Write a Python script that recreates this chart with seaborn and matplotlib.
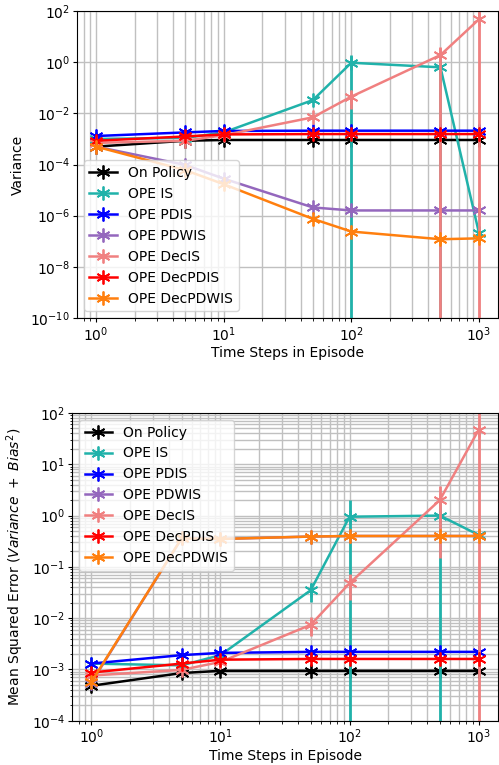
import numpy as np
import matplotlib
matplotlib.use("Agg")
import matplotlib.pyplot as plt
import seaborn as sns

# dados
passos = [1, 5, 10, 50, 100, 500, 1000]
metodos = ["On Policy", "OPE IS", "OPE PDIS", "OPE PDWIS", "OPE DecIS", "OPE DecPDIS", "OPE DecPDWIS"]
cores = ["black", "lightseagreen", "blue", "tab:purple", "lightcoral", "red", "tab:orange"]

var_on_policy = [5.0e-4, 8.5e-4, 9.1e-4, 9.1e-4, 9.1e-4, 9.1e-4, 9.1e-4]
var_is = [1.0e-3, 1.1e-3, 1.8e-3, 0.033, 0.95, 0.63, 2.2e-7]
var_pdis = [1.3e-3, 1.8e-3, 2.05e-3, 2.1e-3, 2.1e-3, 2.1e-3, 2.1e-3]
var_pdwis = [5.0e-4, 9.6e-5, 2.8e-5, 2.1e-6, 1.6e-6, 1.6e-6, 1.6e-6]
var_decis = [7.0e-4, 8.5e-4, 1.4e-3, 7.0e-3, 0.045, 1.9, 47.0]
var_decpdis = [8.5e-4, 1.25e-3, 1.5e-3, 1.55e-3, 1.55e-3, 1.55e-3, 1.55e-3]
var_decpdwis = [5.0e-4, 6.0e-5, 1.7e-5, 7.5e-7, 2.4e-7, 1.2e-7, 1.3e-7]

err_var_is = [0, 0, 0, 0.004, 1.0, 0.7, 0]
err_var_decis = [0, 0, 0, 0.001, 0.03, 2.0, 80.0]
err_var_decpdwis = [0, 0, 0, 0, 0, 4e-8, 4e-8]

mse_on_policy = [4.8e-4, 8.5e-4, 9.4e-4, 9.4e-4, 9.4e-4, 9.4e-4, 9.4e-4]
mse_is = [1.3e-3, 1.2e-3, 1.9e-3, 0.035, 0.95, 1.0, 0.42]
mse_pdis = [1.3e-3, 1.9e-3, 2.1e-3, 2.2e-3, 2.2e-3, 2.2e-3, 2.2e-3]
mse_pdwis = [5.5e-4, 0.36, 0.35, 0.39, 0.40, 0.40, 0.40]
mse_decis = [7.6e-4, 9.8e-4, 1.4e-3, 7.4e-3, 0.048, 2.0, 47.0]
mse_decpdis = [8.7e-4, 1.3e-3, 1.55e-3, 1.6e-3, 1.6e-3, 1.6e-3, 1.6e-3]
mse_decpdwis = [5.7e-4, 0.36, 0.35, 0.39, 0.40, 0.40, 0.40]

err_mse_is = [0, 0, 0, 0.014, 1.05, 1.2, 0]
err_mse_decis = [0, 0, 0, 0.003, 0.025, 1.85, 80.0]

variancias = [var_on_policy, var_is, var_pdis, var_pdwis, var_decis, var_decpdis, var_decpdwis]
erros_var = [None, err_var_is, None, None, err_var_decis, None, err_var_decpdwis]
mses = [mse_on_policy, mse_is, mse_pdis, mse_pdwis, mse_decis, mse_decpdis, mse_decpdwis]
erros_mse = [None, err_mse_is, None, None, err_mse_decis, None, None]

MARCADOR = (6, 2, 0)


def desenhar(ax, valores, erros):
    for nome, cor, y, e in zip(metodos, cores, valores, erros):
        sns.lineplot(x=passos, y=y, color=cor, marker=MARCADOR, markersize=10,
                     markeredgewidth=1.3, markeredgecolor=cor, linewidth=1.8,
                     label=nome, ax=ax)
        if e is not None:
            ax.errorbar(passos, y, yerr=e, fmt="none", ecolor=cor, elinewidth=2, capsize=0)
    ax.set_xscale("log")
    ax.set_yscale("log")
    ax.grid(True, which="both", color="#c0c0c0", linewidth=1.0)
    ax.set_axisbelow(True)
    ax.tick_params(which="major", length=3, pad=2)
    ax.tick_params(which="minor", length=1.8)


fig = plt.figure(figsize=(4.99, 7.65), dpi=100)
ax1 = fig.add_axes([0.1543, 0.5843, 0.8437, 0.4013])
ax2 = fig.add_axes([0.1443, 0.0579, 0.8537, 0.4022])

desenhar(ax1, variancias, erros_var)
ax1.set_ylim(1e-10, 1e2)
ax1.set_xlabel("Time Steps in Episode", labelpad=2)
ax1.set_ylabel("Variance")
ax1.legend(loc="lower left")

desenhar(ax2, mses, erros_mse)
ax2.set_ylim(1e-4, 1e2)
ax2.set_xlabel("Time Steps in Episode", labelpad=2)
ax2.set_ylabel(r"Mean Squared Error ($Variance\ +\ Bias^2$)")
ax2.legend(loc="upper left")

fig.savefig("out.png", dpi=100)
